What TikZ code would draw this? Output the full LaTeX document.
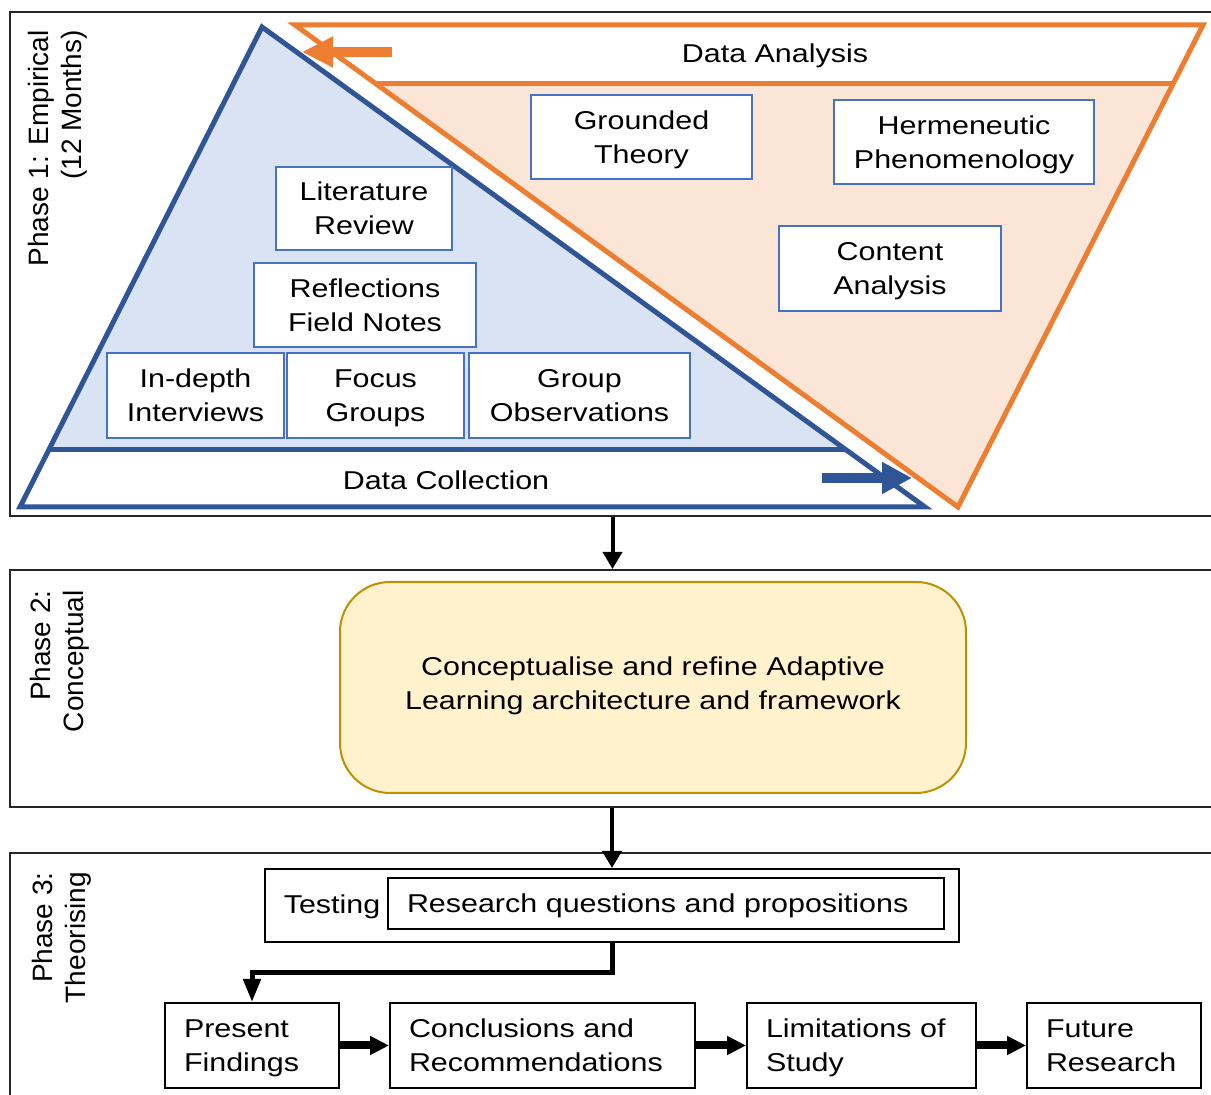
\documentclass[tikz,border=0pt]{standalone}
\usepackage{fontspec}
\setmainfont{Liberation Sans}[FakeStretch=1.18]
\newfontfamily\sidefont{Liberation Sans}
\usetikzlibrary{arrows.meta}

\definecolor{dcblue}{HTML}{2F5597}
\definecolor{dcfill}{HTML}{DAE3F3}
\definecolor{daorange}{HTML}{ED7D31}
\definecolor{dafill}{HTML}{FBE5D6}
\definecolor{methodblue}{HTML}{4472C4}
\definecolor{ideafill}{HTML}{FFF2CC}
\definecolor{ideaedge}{HTML}{BF9000}

% strut that centres a line of capitals on the node centre
\newcommand\linestrut{\rule[-3.9pt]{0pt}{17pt}}

\begin{document}
\begin{tikzpicture}[x=0.5pt,y=-0.5pt,
  font=\fontsize{12.9pt}{17pt}\selectfont,
  phaseframe/.style={draw=black!85, line width=1pt, minimum width=602.5pt, inner sep=0},
  phaselabel/.style={font=\sidefont\fontsize{14pt}{16.5pt}\selectfont,
    rotate=90, anchor=east, align=right, inner sep=0},
  method/.style={draw=methodblue, line width=1.1pt, fill=white, align=center, inner sep=0},
  plainbox/.style={draw=black, line width=1pt, fill=white, inner sep=0},
  stagebox/.style={draw=black, line width=1pt, fill=white, align=left,
    inner xsep=9.5pt, inner ysep=0, minimum height=42.5pt},
  flow/.style={draw=black, line width=2pt, -{Triangle[length=8.5pt,width=9.5pt]}},
  elbow/.style={draw=black, line width=2.5pt, -{Triangle[length=11.5pt,width=8.5pt]}},
  stageflow/.style={draw=black, line width=4pt, -{Triangle[length=9.5pt,width=9pt]}},
  edgeline/.style={line width=2.5pt, line join=miter}
]
\useasboundingbox (0,0) rectangle (1211,1095);
\clip (0,0) rectangle (1211,1095);

% phase frames (they run past the right and bottom edges)
\node[phaseframe, minimum height=252pt]   (p1) at (612.5,264)   {};
\node[phaseframe, minimum height=118.5pt] (p2) at (612.5,688.5) {};
\node[phaseframe, minimum height=123.5pt] (p3) at (612.5,976.5) {};

\node[phaselabel] (l1) at (57.5,30) {Phase 1: Empirical\\(12 Months)};
\node[phaselabel] (l2) at (59.5,590)  {Phase 2:\\Conceptual};
\node[phaselabel] (l3) at (62,872)  {Phase 3:\\Theorising};

% data collection triangle
\fill[dcfill] (262,27) -- (925,507) -- (20,507) -- cycle;
\fill[white] (48.7,450) -- (846.3,450) -- (925,507) -- (20,507) -- cycle;
\draw[dcblue, edgeline] (262,27) -- (925,507) -- (20,507) -- cycle;
\draw[dcblue, line width=2.5pt] (48.7,450) -- (846.3,450);

% data analysis triangle
\fill[dafill] (295,25) -- (1203,25) -- (958,507) -- cycle;
\fill[white] (295,25) -- (1203,25) -- (1173,84) -- (376.2,84) -- cycle;
\draw[daorange, edgeline] (295,25) -- (1203,25) -- (958,507) -- cycle;
\draw[daorange, line width=2.5pt] (376.2,84) -- (1173,84);

\node[inner sep=0] (da) at (775,53)  {\linestrut Data Analysis};
\node[inner sep=0] (dc) at (446,480) {\linestrut Data Collection};

% direction arrows inside the bands
\coordinate (daTail) at (392,52);
\coordinate (daHead) at (302,52);
\draw[daorange, line width=5pt, -{Triangle[length=15.5pt,width=14.5pt]}] (daTail) -- (daHead);
\coordinate (dcTail) at (822,478);
\coordinate (dcHead) at (912,478);
\draw[dcblue, line width=5.3pt, -{Triangle[length=15pt,width=15pt]}] (dcTail) -- (dcHead);

% analysis methods
\node[method, minimum width=110.5pt, minimum height=42pt]   (gt) at (641.5,137) {\linestrut Grounded\\\linestrut Theory};
\node[method, minimum width=130pt,   minimum height=42pt]   (hp) at (964,142)   {\linestrut Hermeneutic\\\linestrut Phenomenology};
\node[method, minimum width=111pt,   minimum height=42.5pt] (ca) at (890,268.5) {\linestrut Content\\\linestrut Analysis};

% collection methods
\node[method, minimum width=88pt,    minimum height=41.5pt] (lr)  at (364,208.5) {\linestrut Literature\\\linestrut Review};
\node[method, minimum width=111pt,   minimum height=42pt]   (rf)  at (365,305)   {\linestrut Reflections\\\linestrut Field Notes};
\node[method, minimum width=88.5pt,  minimum height=42.5pt] (idi) at (195.5,395.5) {\linestrut In-depth\\\linestrut Interviews};
\node[method, minimum width=88.5pt,  minimum height=42.5pt] (fg)  at (375.5,395.5) {\linestrut Focus\\\linestrut Groups};
\node[method, minimum width=110.5pt, minimum height=42.5pt] (go)  at (579.5,395.5) {\linestrut Group\\\linestrut Observations};

% phase 2
\node[draw=ideaedge, fill=ideafill, line width=1pt, rounded corners=25pt,
      minimum width=313pt, minimum height=105.5pt, align=center, inner sep=0]
      (cf) at (653,687.5) {\linestrut Conceptualise and refine Adaptive\\\linestrut Learning architecture and framework\rule[-8pt]{0pt}{0pt}};

% phase 3
\node[plainbox, minimum width=347pt, minimum height=36.5pt] (test) at (612,905.5) {};
\node[plainbox, align=left, text width=259pt, inner xsep=9.5pt, minimum height=25.5pt]
      (rq) at (666,903.5) {\linestrut Research questions and propositions};
\node[inner sep=0] (tst) at (332,904) {\linestrut Testing};

\node[stagebox, text width=68pt]    (pf) at (252,1045.5)   {\linestrut Present\\\linestrut Findings};
\node[stagebox, text width=133.5pt] (cr) at (542.5,1045.5) {\linestrut Conclusions and\\\linestrut Recommendations};
\node[stagebox, text width=95.5pt]  (ls) at (861.5,1045.5) {\linestrut Limitations of\\\linestrut Study};
\node[stagebox, text width=68pt]    (fr) at (1114,1045.5)  {\linestrut Future\\\linestrut Research};

% connectors
\draw[flow] (p1.south) -- (p2.north);
\draw[flow] (p2.south -| test.north) -- (test.north);
\draw[elbow] (test.south) -- ++(0,30) -| (pf.north);
\draw[stageflow] (pf) -- (cr);
\draw[stageflow] (cr) -- (ls);
\draw[stageflow] (ls) -- (fr);
\end{tikzpicture}
\end{document}
